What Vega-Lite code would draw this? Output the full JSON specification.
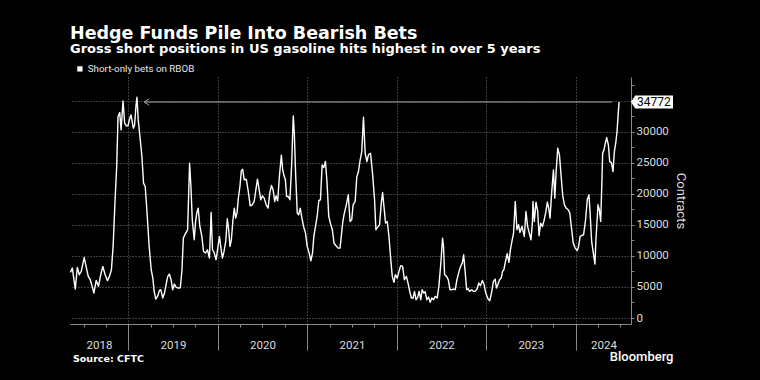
{
  "$schema": "https://vega.github.io/schema/vega-lite/v6.json",
  "width": 561,
  "height": 247,
  "autosize": {"type": "none"},
  "padding": {"left": 70, "top": 77, "right": 129, "bottom": 56},
  "background": "#000000",
  "title": {
    "text": "Hedge Funds Pile Into Bearish Bets",
    "subtitle": "Gross short positions in US gasoline hits highest in over 5 years",
    "anchor": "start",
    "frame": "group",
    "font": "DejaVu Sans",
    "fontSize": 17.5,
    "fontWeight": "bold",
    "color": "#ffffff",
    "subtitleFont": "DejaVu Sans",
    "subtitleFontSize": 13,
    "subtitleFontWeight": "bold",
    "subtitleColor": "#ffffff",
    "subtitlePadding": 1,
    "offset": 8
  },
  "config": {
    "view": {"stroke": null},
    "axis": {"labelFont": "Roboto", "titleFont": "Roboto"}
  },
  "datasets": {
    "series": [
      {"t": 2018.352, "v": 7343}, {"t": 2018.374, "v": 8040}, {"t": 2018.407, "v": 4663}, {"t": 2018.43, "v": 8147},
      {"t": 2018.452, "v": 6968}, {"t": 2018.474, "v": 7504}, {"t": 2018.507, "v": 9755}, {"t": 2018.53, "v": 8147},
      {"t": 2018.552, "v": 6700}, {"t": 2018.574, "v": 6164}, {"t": 2018.596, "v": 5092}, {"t": 2018.615, "v": 4020},
      {"t": 2018.641, "v": 6057}, {"t": 2018.667, "v": 5092}, {"t": 2018.689, "v": 6807}, {"t": 2018.715, "v": 8308},
      {"t": 2018.741, "v": 6968}, {"t": 2018.767, "v": 6003}, {"t": 2018.789, "v": 6700}, {"t": 2018.811, "v": 7772},
      {"t": 2018.83, "v": 11524}, {"t": 2018.852, "v": 19028}, {"t": 2018.87, "v": 24388}, {"t": 2018.885, "v": 32428},
      {"t": 2018.904, "v": 33071}, {"t": 2018.919, "v": 30284}, {"t": 2018.941, "v": 34947}, {"t": 2018.959, "v": 31356},
      {"t": 2018.978, "v": 30927}, {"t": 2018.996, "v": 30927}, {"t": 2019.011, "v": 31892}, {"t": 2019.03, "v": 32696},
      {"t": 2019.056, "v": 30552}, {"t": 2019.07, "v": 31088}, {"t": 2019.085, "v": 34036}, {"t": 2019.096, "v": 35537},
      {"t": 2019.111, "v": 31892}, {"t": 2019.13, "v": 29212}, {"t": 2019.152, "v": 25996}, {"t": 2019.17, "v": 21708},
      {"t": 2019.189, "v": 21172}, {"t": 2019.207, "v": 17420}, {"t": 2019.233, "v": 11524}, {"t": 2019.256, "v": 7772},
      {"t": 2019.274, "v": 6432}, {"t": 2019.289, "v": 4288}, {"t": 2019.307, "v": 3055}, {"t": 2019.33, "v": 3591},
      {"t": 2019.348, "v": 4449}, {"t": 2019.363, "v": 4556}, {"t": 2019.385, "v": 3216}, {"t": 2019.404, "v": 4020},
      {"t": 2019.422, "v": 5360}, {"t": 2019.441, "v": 6700}, {"t": 2019.459, "v": 7075}, {"t": 2019.478, "v": 6164},
      {"t": 2019.496, "v": 4556}, {"t": 2019.515, "v": 5467}, {"t": 2019.533, "v": 4985}, {"t": 2019.556, "v": 4824},
      {"t": 2019.581, "v": 4878}, {"t": 2019.6, "v": 7772}, {"t": 2019.615, "v": 12864}, {"t": 2019.641, "v": 13668},
      {"t": 2019.663, "v": 14204}, {"t": 2019.674, "v": 19564}, {"t": 2019.685, "v": 24924}, {"t": 2019.7, "v": 21172},
      {"t": 2019.715, "v": 15812}, {"t": 2019.737, "v": 12596}, {"t": 2019.752, "v": 15544}, {"t": 2019.767, "v": 16991},
      {"t": 2019.781, "v": 17688}, {"t": 2019.8, "v": 14740}, {"t": 2019.822, "v": 13132}, {"t": 2019.841, "v": 10720},
      {"t": 2019.863, "v": 10452}, {"t": 2019.885, "v": 10988}, {"t": 2019.907, "v": 9648}, {"t": 2019.926, "v": 16991},
      {"t": 2019.941, "v": 10988}, {"t": 2019.959, "v": 10559}, {"t": 2019.981, "v": 9380}, {"t": 2020.0, "v": 11256},
      {"t": 2020.019, "v": 13132}, {"t": 2020.033, "v": 11524}, {"t": 2020.052, "v": 9648}, {"t": 2020.07, "v": 10720},
      {"t": 2020.089, "v": 12328}, {"t": 2020.107, "v": 15973}, {"t": 2020.122, "v": 14204}, {"t": 2020.137, "v": 11524},
      {"t": 2020.152, "v": 12596}, {"t": 2020.17, "v": 15812}, {"t": 2020.185, "v": 17688}, {"t": 2020.2, "v": 16080},
      {"t": 2020.215, "v": 16884}, {"t": 2020.23, "v": 19296}, {"t": 2020.248, "v": 21172}, {"t": 2020.263, "v": 23691},
      {"t": 2020.278, "v": 23959}, {"t": 2020.296, "v": 22244}, {"t": 2020.319, "v": 22351}, {"t": 2020.341, "v": 20368},
      {"t": 2020.363, "v": 18063}, {"t": 2020.385, "v": 18224}, {"t": 2020.407, "v": 18760}, {"t": 2020.426, "v": 20636},
      {"t": 2020.444, "v": 22351}, {"t": 2020.463, "v": 20636}, {"t": 2020.481, "v": 19028}, {"t": 2020.5, "v": 19671},
      {"t": 2020.519, "v": 19296}, {"t": 2020.541, "v": 18224}, {"t": 2020.563, "v": 17688}, {"t": 2020.581, "v": 20100},
      {"t": 2020.6, "v": 21333}, {"t": 2020.619, "v": 20636}, {"t": 2020.637, "v": 18760}, {"t": 2020.652, "v": 19671},
      {"t": 2020.67, "v": 18867}, {"t": 2020.689, "v": 22780}, {"t": 2020.711, "v": 26210}, {"t": 2020.726, "v": 23852},
      {"t": 2020.741, "v": 22887}, {"t": 2020.756, "v": 22244}, {"t": 2020.77, "v": 19564}, {"t": 2020.789, "v": 19564},
      {"t": 2020.807, "v": 19028}, {"t": 2020.826, "v": 24656}, {"t": 2020.844, "v": 32535}, {"t": 2020.856, "v": 29748},
      {"t": 2020.87, "v": 23316}, {"t": 2020.889, "v": 16884}, {"t": 2020.904, "v": 16616}, {"t": 2020.922, "v": 17688},
      {"t": 2020.941, "v": 16080}, {"t": 2020.959, "v": 14740}, {"t": 2020.981, "v": 13668}, {"t": 2021.0, "v": 11524},
      {"t": 2021.022, "v": 10452}, {"t": 2021.041, "v": 9219}, {"t": 2021.059, "v": 10452}, {"t": 2021.074, "v": 13132},
      {"t": 2021.093, "v": 14740}, {"t": 2021.111, "v": 16348}, {"t": 2021.13, "v": 18921}, {"t": 2021.148, "v": 19028},
      {"t": 2021.167, "v": 24656}, {"t": 2021.185, "v": 24227}, {"t": 2021.204, "v": 25192}, {"t": 2021.222, "v": 21708},
      {"t": 2021.241, "v": 16348}, {"t": 2021.259, "v": 15276}, {"t": 2021.281, "v": 14204}, {"t": 2021.3, "v": 12060},
      {"t": 2021.322, "v": 11631}, {"t": 2021.344, "v": 11256}, {"t": 2021.367, "v": 11256}, {"t": 2021.381, "v": 13132},
      {"t": 2021.396, "v": 15276}, {"t": 2021.411, "v": 16616}, {"t": 2021.437, "v": 18224}, {"t": 2021.459, "v": 19832},
      {"t": 2021.479, "v": 15544}, {"t": 2021.498, "v": 15812}, {"t": 2021.513, "v": 18224}, {"t": 2021.536, "v": 18760},
      {"t": 2021.554, "v": 22673}, {"t": 2021.573, "v": 23584}, {"t": 2021.592, "v": 25460}, {"t": 2021.61, "v": 26800},
      {"t": 2021.629, "v": 32321}, {"t": 2021.648, "v": 26532}, {"t": 2021.667, "v": 25192}, {"t": 2021.685, "v": 26264},
      {"t": 2021.708, "v": 26532}, {"t": 2021.73, "v": 23316}, {"t": 2021.753, "v": 19028}, {"t": 2021.768, "v": 14204},
      {"t": 2021.787, "v": 14633}, {"t": 2021.809, "v": 15008}, {"t": 2021.828, "v": 18492}, {"t": 2021.843, "v": 20207},
      {"t": 2021.858, "v": 17956}, {"t": 2021.876, "v": 15276}, {"t": 2021.895, "v": 15544}, {"t": 2021.914, "v": 13132},
      {"t": 2021.933, "v": 9648}, {"t": 2021.951, "v": 6700}, {"t": 2021.97, "v": 5735}, {"t": 2021.985, "v": 6968},
      {"t": 2022.007, "v": 6432}, {"t": 2022.026, "v": 7504}, {"t": 2022.045, "v": 8415}, {"t": 2022.067, "v": 8308},
      {"t": 2022.086, "v": 6164}, {"t": 2022.109, "v": 6700}, {"t": 2022.127, "v": 5628}, {"t": 2022.146, "v": 4288},
      {"t": 2022.165, "v": 3216}, {"t": 2022.184, "v": 3216}, {"t": 2022.199, "v": 4288}, {"t": 2022.217, "v": 2948},
      {"t": 2022.236, "v": 3377}, {"t": 2022.251, "v": 4288}, {"t": 2022.27, "v": 2948}, {"t": 2022.285, "v": 4556},
      {"t": 2022.303, "v": 4020}, {"t": 2022.318, "v": 4234}, {"t": 2022.337, "v": 2948}, {"t": 2022.356, "v": 3377},
      {"t": 2022.375, "v": 2519}, {"t": 2022.393, "v": 3216}, {"t": 2022.412, "v": 2948}, {"t": 2022.431, "v": 3484},
      {"t": 2022.453, "v": 3216}, {"t": 2022.472, "v": 5092}, {"t": 2022.494, "v": 8844}, {"t": 2022.513, "v": 12864},
      {"t": 2022.524, "v": 11524}, {"t": 2022.536, "v": 6968}, {"t": 2022.558, "v": 6700}, {"t": 2022.577, "v": 6164},
      {"t": 2022.596, "v": 4556}, {"t": 2022.614, "v": 4556}, {"t": 2022.633, "v": 4663}, {"t": 2022.655, "v": 4556},
      {"t": 2022.674, "v": 6164}, {"t": 2022.697, "v": 7504}, {"t": 2022.715, "v": 8308}, {"t": 2022.734, "v": 8844},
      {"t": 2022.749, "v": 10184}, {"t": 2022.764, "v": 7772}, {"t": 2022.783, "v": 4556}, {"t": 2022.798, "v": 4717},
      {"t": 2022.816, "v": 4288}, {"t": 2022.839, "v": 4556}, {"t": 2022.858, "v": 4288}, {"t": 2022.876, "v": 4288},
      {"t": 2022.899, "v": 4663}, {"t": 2022.918, "v": 5628}, {"t": 2022.936, "v": 5199}, {"t": 2022.959, "v": 6057},
      {"t": 2022.978, "v": 5360}, {"t": 2022.996, "v": 4020}, {"t": 2023.022, "v": 3055}, {"t": 2023.041, "v": 2787},
      {"t": 2023.06, "v": 4020}, {"t": 2023.082, "v": 5896}, {"t": 2023.101, "v": 6271}, {"t": 2023.116, "v": 4824},
      {"t": 2023.131, "v": 5360}, {"t": 2023.15, "v": 6164}, {"t": 2023.169, "v": 6432}, {"t": 2023.184, "v": 7504},
      {"t": 2023.199, "v": 7772}, {"t": 2023.217, "v": 9112}, {"t": 2023.236, "v": 10345}, {"t": 2023.255, "v": 8951},
      {"t": 2023.273, "v": 11095}, {"t": 2023.292, "v": 12596}, {"t": 2023.307, "v": 13668}, {"t": 2023.326, "v": 18760},
      {"t": 2023.345, "v": 14204}, {"t": 2023.363, "v": 15008}, {"t": 2023.378, "v": 13775}, {"t": 2023.401, "v": 14740},
      {"t": 2023.427, "v": 13132}, {"t": 2023.446, "v": 17152}, {"t": 2023.464, "v": 14740}, {"t": 2023.483, "v": 13668},
      {"t": 2023.502, "v": 12596}, {"t": 2023.517, "v": 15276}, {"t": 2023.524, "v": 18760}, {"t": 2023.539, "v": 15544},
      {"t": 2023.558, "v": 18653}, {"t": 2023.577, "v": 17152}, {"t": 2023.592, "v": 13239}, {"t": 2023.61, "v": 15276},
      {"t": 2023.629, "v": 14740}, {"t": 2023.648, "v": 15705}, {"t": 2023.667, "v": 16991}, {"t": 2023.685, "v": 18653},
      {"t": 2023.7, "v": 17688}, {"t": 2023.715, "v": 16080}, {"t": 2023.734, "v": 20368}, {"t": 2023.753, "v": 23852},
      {"t": 2023.768, "v": 19296}, {"t": 2023.783, "v": 23584}, {"t": 2023.801, "v": 27336}, {"t": 2023.82, "v": 26264},
      {"t": 2023.839, "v": 22780}, {"t": 2023.858, "v": 19564}, {"t": 2023.876, "v": 18224}, {"t": 2023.895, "v": 17688},
      {"t": 2023.918, "v": 17420}, {"t": 2023.936, "v": 16884}, {"t": 2023.955, "v": 14472}, {"t": 2023.974, "v": 12060},
      {"t": 2023.996, "v": 11256}, {"t": 2024.019, "v": 10881}, {"t": 2024.034, "v": 11524}, {"t": 2024.052, "v": 13132},
      {"t": 2024.071, "v": 13293}, {"t": 2024.09, "v": 13400}, {"t": 2024.112, "v": 15812}, {"t": 2024.131, "v": 19028},
      {"t": 2024.15, "v": 19832}, {"t": 2024.165, "v": 16348}, {"t": 2024.18, "v": 12328}, {"t": 2024.199, "v": 10452},
      {"t": 2024.217, "v": 8683}, {"t": 2024.228, "v": 12596}, {"t": 2024.24, "v": 15544}, {"t": 2024.251, "v": 18224},
      {"t": 2024.266, "v": 17420}, {"t": 2024.281, "v": 15544}, {"t": 2024.292, "v": 20636}, {"t": 2024.303, "v": 26532},
      {"t": 2024.318, "v": 27068}, {"t": 2024.333, "v": 28140}, {"t": 2024.348, "v": 29051}, {"t": 2024.367, "v": 27872},
      {"t": 2024.382, "v": 25192}, {"t": 2024.401, "v": 25031}, {"t": 2024.419, "v": 23584}, {"t": 2024.434, "v": 26800},
      {"t": 2024.449, "v": 28140}, {"t": 2024.464, "v": 30016}, {"t": 2024.476, "v": 32696}, {"t": 2024.487, "v": 34772}
    ],
    "note": [
      {"t0": 2019.178, "t1": 2024.407, "v": 34772}
    ]
  },
  "resolve": {"axis": {"x": "independent", "y": "independent"}},
  "layer": [
    {
      "data": {"name": "series"},
      "mark": {"type": "line", "color": "#ffffff", "strokeWidth": 1.4, "strokeJoin": "round"},
      "encoding": {
        "x": {
          "field": "t",
          "type": "quantitative",
          "scale": {"domain": [2018.348, 2024.62], "nice": false, "zero": false},
          "axis": {
            "orient": "bottom",
            "values": [2018.5, 2018.672, 2018.75, 2019, 2019.25, 2019.5, 2019.75, 2020, 2020.25, 2020.5, 2020.75, 2021, 2021.25, 2021.5, 2021.75, 2022, 2022.25, 2022.5, 2022.75, 2023, 2023.25, 2023.5, 2023.75, 2024, 2024.25, 2024.313, 2024.5],
            "labelExpr": "datum.value == 2018.672 ? '2018' : datum.value == 2024.313 ? '2024' : ((datum.value % 1 == 0.5 && datum.value > 2019 && datum.value < 2024) ? ('' + floor(datum.value)) : '')",
            "labelOverlap": false,
            "labelFlush": false,
            "labelBound": false,
            "labelFontSize": 11.5,
            "labelColor": "#dddddd",
            "labelPadding": 12,
            "tickColor": "#888888",
            "tickSize": {"condition": {"test": "datum.value % 1 == 0", "value": 26}, "value": 3},
            "tickOpacity": {"condition": {"test": "datum.value == 2018.672 || datum.value == 2024.313", "value": 0}, "value": 1},
            "grid": true,
            "gridColor": "#777777",
            "gridDash": [1, 2],
            "gridOpacity": {"condition": {"test": "datum.value % 1 == 0", "value": 1}, "value": 0},
            "domainColor": "#888888",
            "title": "Source: CFTC",
            "titleFont": "DejaVu Sans",
            "titleFontWeight": "bold",
            "titleFontSize": 9.5,
            "titleColor": "#ffffff",
            "titleAnchor": "start",
            "titleAlign": "left",
            "titleBaseline": "middle",
            "titleX": 2.5,
            "titleY": 34
          }
        },
        "y": {
          "field": "v",
          "type": "quantitative",
          "scale": {"domain": [-965, 38800], "nice": false, "zero": false},
          "axis": {
            "orient": "right",
            "values": [0, 2500, 5000, 7500, 10000, 12500, 15000, 17500, 20000, 22500, 25000, 27500, 30000, 32500, 35000, 37500],
            "format": "d",
            "labelExpr": "(datum.value % 5000 == 0 && datum.value <= 30000) ? datum.label : ''",
            "labelOverlap": false,
            "labelFontSize": 11.5,
            "labelColor": "#dddddd",
            "labelPadding": 2,
            "tickSize": 3,
            "tickColor": "#888888",
            "grid": true,
            "gridColor": "#777777",
            "gridDash": [1, 2],
            "gridOpacity": {"condition": {"test": "datum.value % 5000 == 0", "value": 1}, "value": 0},
            "domainColor": "#888888",
            "title": "Contracts",
            "titleFontSize": 13,
            "titleFontWeight": "normal",
            "titleColor": "#dddddd",
            "titleAngle": 90,
            "titlePadding": 5
          }
        },
        "color": {
          "datum": "Short-only bets on RBOB",
          "scale": {"range": ["#ffffff"]},
          "legend": {
            "orient": "none",
            "legendX": 5,
            "legendY": -13,
            "title": null,
            "symbolType": "square",
            "symbolSize": 28,
            "symbolStrokeWidth": 0,
            "labelFont": "Roboto",
            "labelFontSize": 9.8,
            "labelColor": "#e6e6e6",
            "labelOffset": 3,
            "padding": 0,
            "encode": {"symbols": {"update": {"fill": {"value": "#ffffff"}, "stroke": {"value": "#ffffff"}, "strokeWidth": {"value": 0}}}}
          }
        }
      }
    },
    {
      "data": {"name": "note"},
      "mark": {"type": "rule", "color": "#aaaaaa", "strokeWidth": 1},
      "encoding": {
        "x": {
          "field": "t0",
          "type": "quantitative",
          "axis": {
            "orient": "bottom",
            "domain": false,
            "ticks": false,
            "labels": false,
            "grid": false,
            "title": "Bloomberg",
            "titleFont": "Roboto",
            "titleFontWeight": 500,
            "titleFontSize": 13,
            "titleColor": "#ffffff",
            "titleAnchor": null,
            "titleAlign": "right",
            "titleBaseline": "middle",
            "titleX": 603,
            "titleY": 32
          }
        },
        "x2": {"field": "t1"},
        "y": {"field": "v", "type": "quantitative", "axis": null}
      }
    },
    {
      "data": {"name": "note"},
      "mark": {"type": "point", "shape": "M 1.5 -1 L 0 0 L 1.5 1", "filled": false, "color": "#aaaaaa", "strokeWidth": 1, "size": 44, "opacity": 1},
      "encoding": {
        "x": {"field": "t0", "type": "quantitative", "axis": null},
        "y": {"field": "v", "type": "quantitative", "axis": null}
      }
    },
    {
      "data": {"name": "note"},
      "mark": {"type": "point", "shape": "M -1 0 L -0.8 -0.31 L 1 -0.31 L 1 0.31 L -0.8 0.31 Z", "filled": true, "color": "#ffffff", "opacity": 1, "size": 1764, "xOffset": 21},
      "encoding": {
        "x": {"value": "width"},
        "y": {"field": "v", "type": "quantitative", "axis": null}
      }
    },
    {
      "data": {"name": "note"},
      "mark": {"type": "text", "align": "left", "baseline": "middle", "dx": 6, "font": "Roboto", "fontSize": 12, "color": "#000000"},
      "encoding": {
        "x": {"value": "width"},
        "y": {"field": "v", "type": "quantitative", "axis": null},
        "text": {"field": "v", "type": "quantitative", "format": "d"}
      }
    }
  ]
}
